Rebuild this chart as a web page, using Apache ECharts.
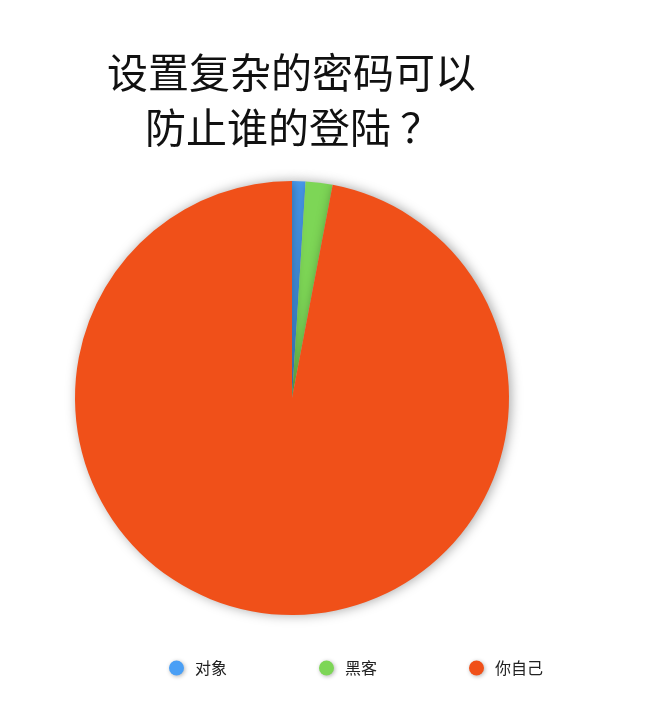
<!DOCTYPE html>
<html><head><meta charset="utf-8">
<script src="https://cdn.jsdelivr.net/npm/echarts@6/dist/echarts.min.js"></script>
<style>html,body{margin:0;padding:0;background:#fff}#c{width:660px;height:701px}</style>
</head><body><div id="c"></div>
<script>
var titleLines = ['设置复杂的密码可以', '防止谁的登陆 ？'];
var categories = ['对象', '黑客', '你自己'];
var values = [1, 2, 97];
var colors = ['#4a9ff5', '#7dd656', '#f05019'];

var chart = echarts.init(document.getElementById('c'));
var tStyle = { fontFamily: 'Noto Sans CJK SC', fontSize: 41, fontWeight: 'normal', fill: '#111', textVerticalAlign: 'middle' };
chart.setOption({
  backgroundColor: '#fff',
  animation: false,
  graphic: [
    { type: 'text', left: 107, top: 52, style: Object.assign({ text: titleLines[0] }, tStyle) },
    { type: 'text', left: 145, top: 107, style: Object.assign({ text: titleLines[1] }, tStyle) }
  ],
  legend: {
    data: categories, left: 164, top: 655, icon: 'circle',
    itemWidth: 15, itemHeight: 15, itemGap: 92,
    textStyle: { fontFamily: 'Noto Sans CJK SC', fontSize: 16, color: '#222', padding: [0, 0, 0, 6] },
    itemStyle: { shadowBlur: 4, shadowColor: 'rgba(0,0,0,0.3)', shadowOffsetX: 1, shadowOffsetY: 1 }
  },
  series: [{
    type: 'pie', center: [292, 398], radius: 217, startAngle: 90, clockwise: true,
    label: { show: false }, labelLine: { show: false },
    emphasis: { disabled: true },
    itemStyle: { shadowBlur: 12, shadowColor: 'rgba(0,0,0,0.35)', shadowOffsetX: 2, shadowOffsetY: 0 },
    data: categories.map(function (n, i) { return { name: n, value: values[i], itemStyle: { color: colors[i] } }; })
  }]
});
</script></body></html>
